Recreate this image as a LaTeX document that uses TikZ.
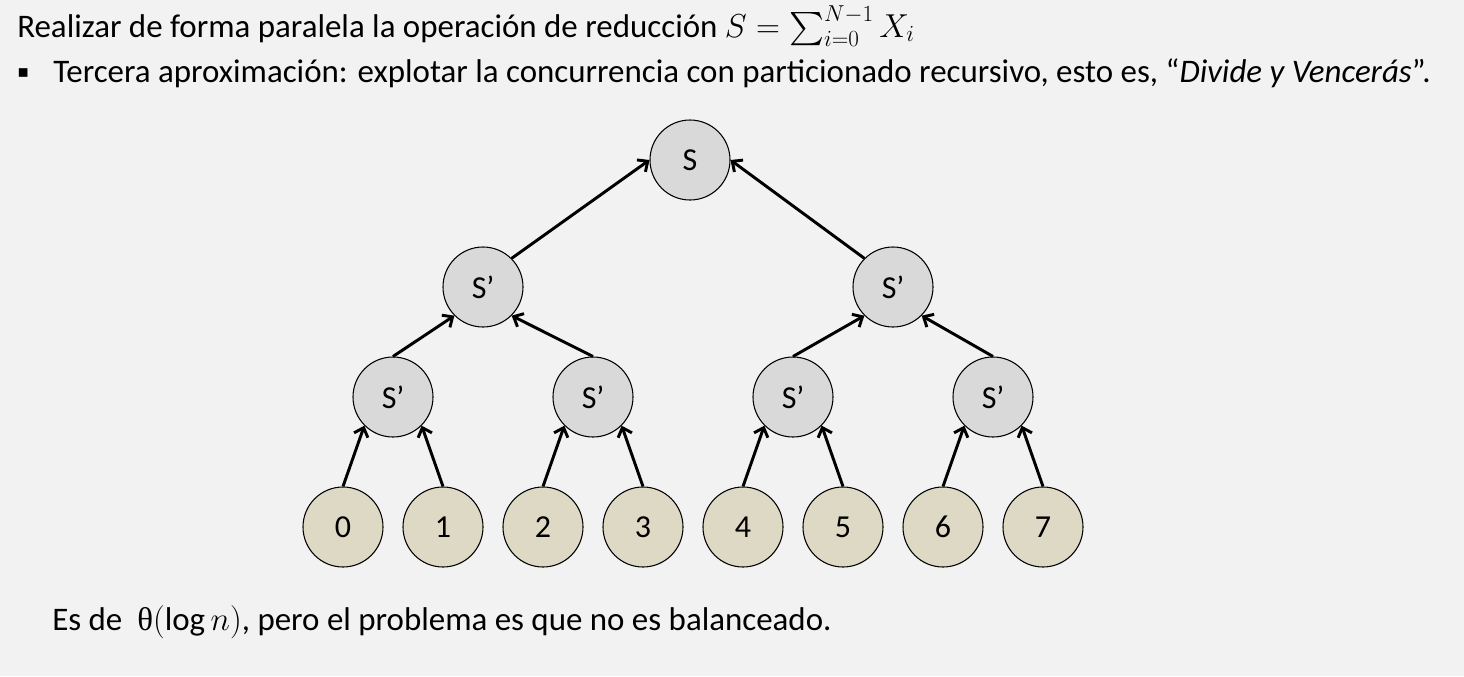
\documentclass[tikz,border=0pt]{standalone}
\usepackage{amsmath}
\usepackage{fontspec}
\setmainfont{Carlito}
\newfontfamily\simbolos{DejaVu Sans}
\newfontfamily\griega{Liberation Serif}
\usetikzlibrary{arrows.meta}

\definecolor{fondo}{HTML}{F2F2F2}
\definecolor{gris}{HTML}{D9D9D9}
\definecolor{arena}{HTML}{DDD9C4}

\tikzset{
  suma/.style={circle, draw, line width=0.8pt, fill=gris, minimum size=60pt, inner sep=0pt, font=\fontsize{24}{28}\selectfont},
  hoja/.style={suma, fill=arena},
  flecha/.style={line width=2.2pt, -{Straight Barb[length=6pt,width=11pt]}},
  texto/.style={anchor=base west, inner sep=0pt, font=\fontsize{24.7}{29}\selectfont}
}

\begin{document}
\begin{tikzpicture}[x=0.75pt, y=-0.75pt]

\fill[fondo] (0,0) rectangle (1464,676);
\useasboundingbox (0,0) rectangle (1464,676);

\def\pareja(#1,#2,#3,#4){
  \node[suma] (p#1) at (#2,397) {S’};
  \node[hoja] (h#3) at (#2-50,527) {#3};
  \node[hoja] (h#4) at (#2+50,527) {#4};
  \draw[flecha] (h#3.north) -- (p#1.south west);
  \draw[flecha] (h#4.north) -- (p#1.south east);
}

\node[texto] (titulo) at (17,37) {Realizar de forma paralela la operación de reducción $S=\sum\nolimits_{i=0}^{N-1}X_i$};
\node[texto, font=\fontsize{13}{13}\selectfont] (vineta) at (17,77) {\simbolos ▪};
\node[texto] (tercera) at (53,82) {Tercera aproximación: explotar la concurrencia con particionado recursivo, esto es, “\textit{Divide y Vencerás}”.};

\node[suma] (S) at (690,160) {S};
\node[suma] (SA) at (483,287) {S’};
\node[suma] (SB) at (893,287) {S’};

\pareja(0, 393, 0, 1);
\pareja(1, 593, 2, 3);
\pareja(2, 793, 4, 5);
\pareja(3, 993, 6, 7);

\draw[flecha] (SA.north east) -- (S.west);
\draw[flecha] (SB.north west) -- (S.east);
\draw[flecha] (p0.north) -- (SA.south west);
\draw[flecha] (p1.north) -- (SA.south east);
\draw[flecha] (p2.north) -- (SB.south west);
\draw[flecha] (p3.north) -- (SB.south east);

\node[texto] (conclusion) at (52,630) {Es de~ {\griega θ}$(\log n)$, pero el problema es que no es balanceado.};

\end{tikzpicture}
\end{document}
